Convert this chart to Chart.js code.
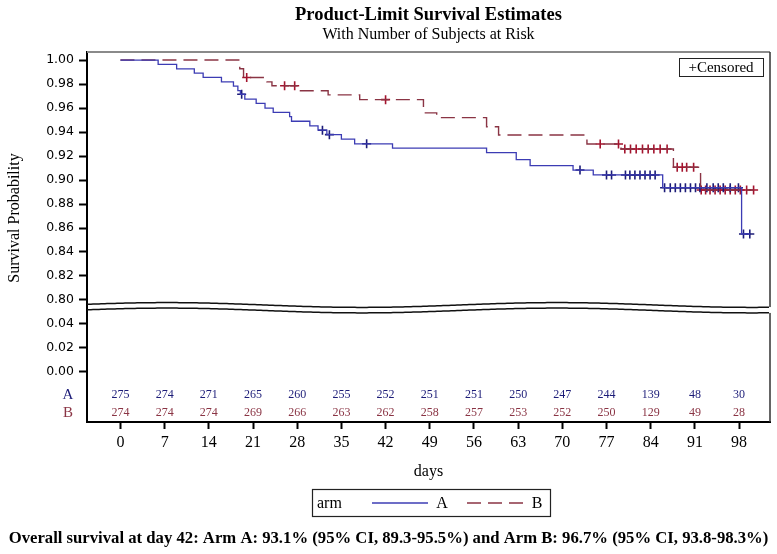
<!DOCTYPE html>
<html>
<head>
<meta charset="utf-8">
<script src="https://cdn.jsdelivr.net/npm/chart.js@4"></script>
<style>
    html, body { margin: 0; padding: 0; background: #fff; overflow: hidden; }
</style>
</head>
<body>
<canvas id="km" width="777" height="554"></canvas>
<script>
// Kaplan-Meier steps (day of drop, survival after it)
const stepDaysA = [0, 5.97, 8.9, 11.7, 13.1, 16, 17.9, 18.6, 19.0, 19.7, 21.5, 22.9, 24.2, 26.8, 27.1, 30, 31.3, 32.7, 35, 37.1, 43.1, 58, 62.7, 64.9, 71.7, 74.9, 85.9, 98.4, 99.7];
const survA = [1, 0.9964, 0.9927, 0.9891, 0.9855, 0.9818, 0.9782, 0.9745, 0.9715, 0.9675, 0.9639, 0.9600, 0.9564, 0.9528, 0.9490, 0.9452, 0.9415, 0.9378, 0.9340, 0.9302, 0.9265, 0.9228, 0.9170, 0.9120, 0.9083, 0.9042, 0.8936, 0.855, 0.855];
const censorDaysA = [19.2, 32, 33.1, 39, 72.8, 77, 77.8, 80, 80.7, 81.5, 82.3, 83.1, 83.9, 84.7, 86.2, 87.1, 87.9, 88.7, 89.5, 90.3, 91.1, 91.8, 92.9, 93.9, 94.7, 95.5, 96.6, 97.9, 98.7, 99.7];

const stepDaysB = [0, 18.9, 19.5, 23.2, 24.0, 28.2, 32.9, 37.9, 48, 50.1, 58, 59.9, 73.9, 79.3, 87.6, 91.9, 100.3];
const survB = [1, 0.9927, 0.9854, 0.9818, 0.9786, 0.9744, 0.971, 0.967, 0.956, 0.952, 0.9444, 0.9375, 0.930, 0.9258, 0.9106, 0.8917, 0.8917];
const censorDaysB = [20, 26, 27.6, 42, 76, 78.9, 79.9, 80.8, 81.7, 82.7, 83.6, 84.5, 85.5, 86.6, 88.2, 89, 89.7, 90.8, 92.0, 92.7, 93.4, 94.2, 95, 95.8, 96.6, 97.4, 98.2, 99.2, 100.3];

// number at risk
const xTicks = [0, 7, 14, 21, 28, 35, 42, 49, 56, 63, 70, 77, 84, 91, 98];
const atRiskA = [275, 274, 271, 265, 260, 255, 252, 251, 251, 250, 247, 244, 139, 48, 30];
const atRiskB = [274, 274, 274, 269, 266, 263, 262, 258, 257, 253, 252, 250, 129, 49, 28];

// broken y axis: lower part 0.00-0.04, upper part 0.80-1.00
const yTicksLower = [0.00, 0.02, 0.04];
const yTicksUpper = [0.80, 0.82, 0.84, 0.86, 0.88, 0.90, 0.92, 0.94, 0.96, 0.98, 1.00];

const footnote = 'Overall survival at day 42: Arm A: 93.1% (95% CI, 89.3-95.5%) and Arm B: 96.7% (95% CI, 93.8-98.3%)';

const BLUE = '#3c3cb4', NAVY = '#1c1c78', MAROON = '#8a3444', RED = '#a3142e';
const SERIF = '"Liberation Serif", "DejaVu Serif", serif';
const SANS = '"DejaVu Sans", sans-serif';

// upper part is shifted down so 0.80 sits one step above 0.04
function brk(v) { return v >= 0.5 ? v - 0.74 : v; }
function unbrk(t) { return t > 0.05 ? t + 0.74 : t; }

function survAt(days, surv, d) {
    let i = 0;
    while (i + 1 < days.length && days[i + 1] <= d) i++;
    return surv[i];
}

function stepPoints(days, surv) {
    return days.map((d, i) => ({ x: d, y: brk(surv[i]) }));
}

function censorPoints(cDays, days, surv) {
    return cDays.map(d => ({ x: d, y: brk(survAt(days, surv, d)) }));
}

const yTickValues = yTicksLower.concat(yTicksUpper).map(brk);

function text(ctx, s, x, y, font, color, align, base) {
    ctx.font = font;
    ctx.fillStyle = color;
    ctx.textAlign = align || 'center';
    ctx.textBaseline = base || 'alphabetic';
    ctx.fillText(s, x, y);
}

const decor = {
    id: 'decor',
    afterDraw(chart) {
        const ctx = chart.ctx, a = chart.chartArea;
        const xs = chart.scales.x, ys = chart.scales.y;
        const midX = (a.left + a.right) / 2;
        ctx.save();

        // titles
        text(ctx, 'Product-Limit Survival Estimates', midX, 20, 'bold 18.5px ' + SERIF, '#000');
        text(ctx, 'With Number of Subjects at Risk', midX, 38.5, '16px ' + SERIF, '#000');

        // frame: top and right
        const p80 = ys.getPixelForValue(brk(0.80));
        const upBase = p80 + 5, loBase = p80 + 10.5;
        const wave = (x, base) => base - 2.4 * Math.cos(2 * Math.PI * (x - 167) / 390);
        ctx.strokeStyle = '#8a8a8a';
        ctx.lineWidth = 2;
        ctx.beginPath();
        ctx.moveTo(a.left, a.top);
        ctx.lineTo(a.right, a.top);
        ctx.stroke();
        ctx.strokeStyle = '#333';
        ctx.lineWidth = 1.5;
        ctx.beginPath();
        ctx.moveTo(a.right, a.top);
        ctx.lineTo(a.right, wave(a.right, upBase));
        ctx.moveTo(a.right, wave(a.right, loBase));
        ctx.lineTo(a.right, a.bottom);
        ctx.stroke();

        // axis break
        ctx.fillStyle = '#fff';
        ctx.beginPath();
        for (let x = a.left + 1; x <= a.right + 2; x += 2) ctx.lineTo(x, wave(x, upBase));
        for (let x = a.right + 2; x >= a.left + 1; x -= 2) ctx.lineTo(x, wave(x, loBase));
        ctx.closePath();
        ctx.fill();
        ctx.strokeStyle = '#111';
        ctx.lineWidth = 1.5;
        [upBase, loBase].forEach(base => {
            ctx.beginPath();
            for (let x = a.left; x <= a.right; x += 2) ctx.lineTo(x, wave(x, base));
            ctx.stroke();
        });

        // censored key
        ctx.strokeStyle = '#222';
        ctx.lineWidth = 1;
        ctx.strokeRect(679.5, 58.5, 84, 18);
        text(ctx, '+Censored', 721, 72, '15px ' + SERIF, '#000');

        // y axis title
        ctx.save();
        ctx.translate(19, 218);
        ctx.rotate(-Math.PI / 2);
        text(ctx, 'Survival Probability', 0, 0, '16px ' + SERIF, '#000');
        ctx.restore();

        // number at risk
        const rowA = a.bottom - 27, rowB = a.bottom - 9.3;
        text(ctx, 'A', a.left - 19, rowA, '15px ' + SERIF, NAVY, 'center', 'middle');
        text(ctx, 'B', a.left - 19, rowB, '15px ' + SERIF, MAROON, 'center', 'middle');
        xTicks.forEach((d, i) => {
            const px = xs.getPixelForValue(d);
            text(ctx, String(atRiskA[i]), px, rowA, '12px ' + SERIF, NAVY, 'center', 'middle');
            text(ctx, String(atRiskB[i]), px, rowB, '12px ' + SERIF, MAROON, 'center', 'middle');
        });

        // x axis title
        text(ctx, 'days', midX, 476, '16px ' + SERIF, '#000');

        // legend
        ctx.strokeStyle = '#222';
        ctx.lineWidth = 1.2;
        ctx.strokeRect(312.5, 489.5, 238, 27);
        text(ctx, 'arm', 317, 508, '16px ' + SERIF, '#000', 'left');
        ctx.lineWidth = 1.3;
        ctx.strokeStyle = BLUE;
        ctx.beginPath();
        ctx.moveTo(372, 503);
        ctx.lineTo(428, 503);
        ctx.stroke();
        text(ctx, 'A', 442, 508, '16px ' + SERIF, '#000');
        ctx.strokeStyle = MAROON;
        ctx.setLineDash([14, 7]);
        ctx.beginPath();
        ctx.moveTo(467, 503);
        ctx.lineTo(525, 503);
        ctx.stroke();
        ctx.setLineDash([]);
        text(ctx, 'B', 537, 508, '16px ' + SERIF, '#000');

        // footnote
        text(ctx, footnote, 388.5, 543, 'bold 16.7px ' + SERIF, '#000');

        ctx.restore();
    }
};

new Chart(document.getElementById('km'), {
    type: 'line',
    data: {
        datasets: [
            {
                label: 'A',
                data: stepPoints(stepDaysA, survA),
                stepped: true,
                borderColor: BLUE,
                borderWidth: 1.3,
                pointRadius: 0,
                fill: false
            },
            {
                label: 'B',
                data: stepPoints(stepDaysB, survB),
                stepped: true,
                borderColor: MAROON,
                borderWidth: 1.4,
                borderDash: [14, 7],
                pointRadius: 0,
                fill: false
            },
            {
                label: 'Censored A',
                data: censorPoints(censorDaysA, stepDaysA, survA),
                showLine: false,
                pointStyle: 'cross',
                pointRadius: 4.5,
                pointBorderWidth: 1.6,
                borderColor: NAVY,
                pointBorderColor: NAVY
            },
            {
                label: 'Censored B',
                data: censorPoints(censorDaysB, stepDaysB, survB),
                showLine: false,
                pointStyle: 'cross',
                pointRadius: 4.5,
                pointBorderWidth: 1.6,
                borderColor: RED,
                pointBorderColor: RED
            }
        ]
    },
    options: {
        responsive: false,
        animation: false,
        devicePixelRatio: 1,
        layout: { padding: { top: 52, right: 7, left: 0, bottom: 0 } },
        plugins: {
            legend: { display: false },
            title: { display: false },
            tooltip: { enabled: false }
        },
        scales: {
            x: {
                type: 'linear',
                min: -5.3,
                max: 102.9,
                afterBuildTicks: s => { s.ticks = xTicks.map(v => ({ value: v })); },
                afterFit: s => { s.height = 132; },
                ticks: {
                    autoSkip: false,
                    maxRotation: 0,
                    padding: 4,
                    color: '#000',
                    font: { family: SERIF, size: 16 }
                },
                grid: { drawOnChartArea: false, drawTicks: true, tickLength: 7, tickColor: '#000', tickWidth: 2 },
                border: { display: true, color: '#000', width: 2 }
            },
            y: {
                type: 'linear',
                min: -0.0417,
                max: 0.2667,
                afterBuildTicks: s => { s.ticks = yTickValues.map(v => ({ value: v })); },
                afterFit: s => { s.width = 87; },
                ticks: {
                    autoSkip: false,
                    padding: 5,
                    color: '#000',
                    font: { family: SANS, size: 12.5 },
                    callback: v => unbrk(v).toFixed(2)
                },
                grid: { drawOnChartArea: false, drawTicks: true, tickLength: 8, tickColor: '#000', tickWidth: 2 },
                border: { display: true, color: '#000', width: 2 }
            }
        }
    },
    plugins: [decor]
});
</script>
</body>
</html>
